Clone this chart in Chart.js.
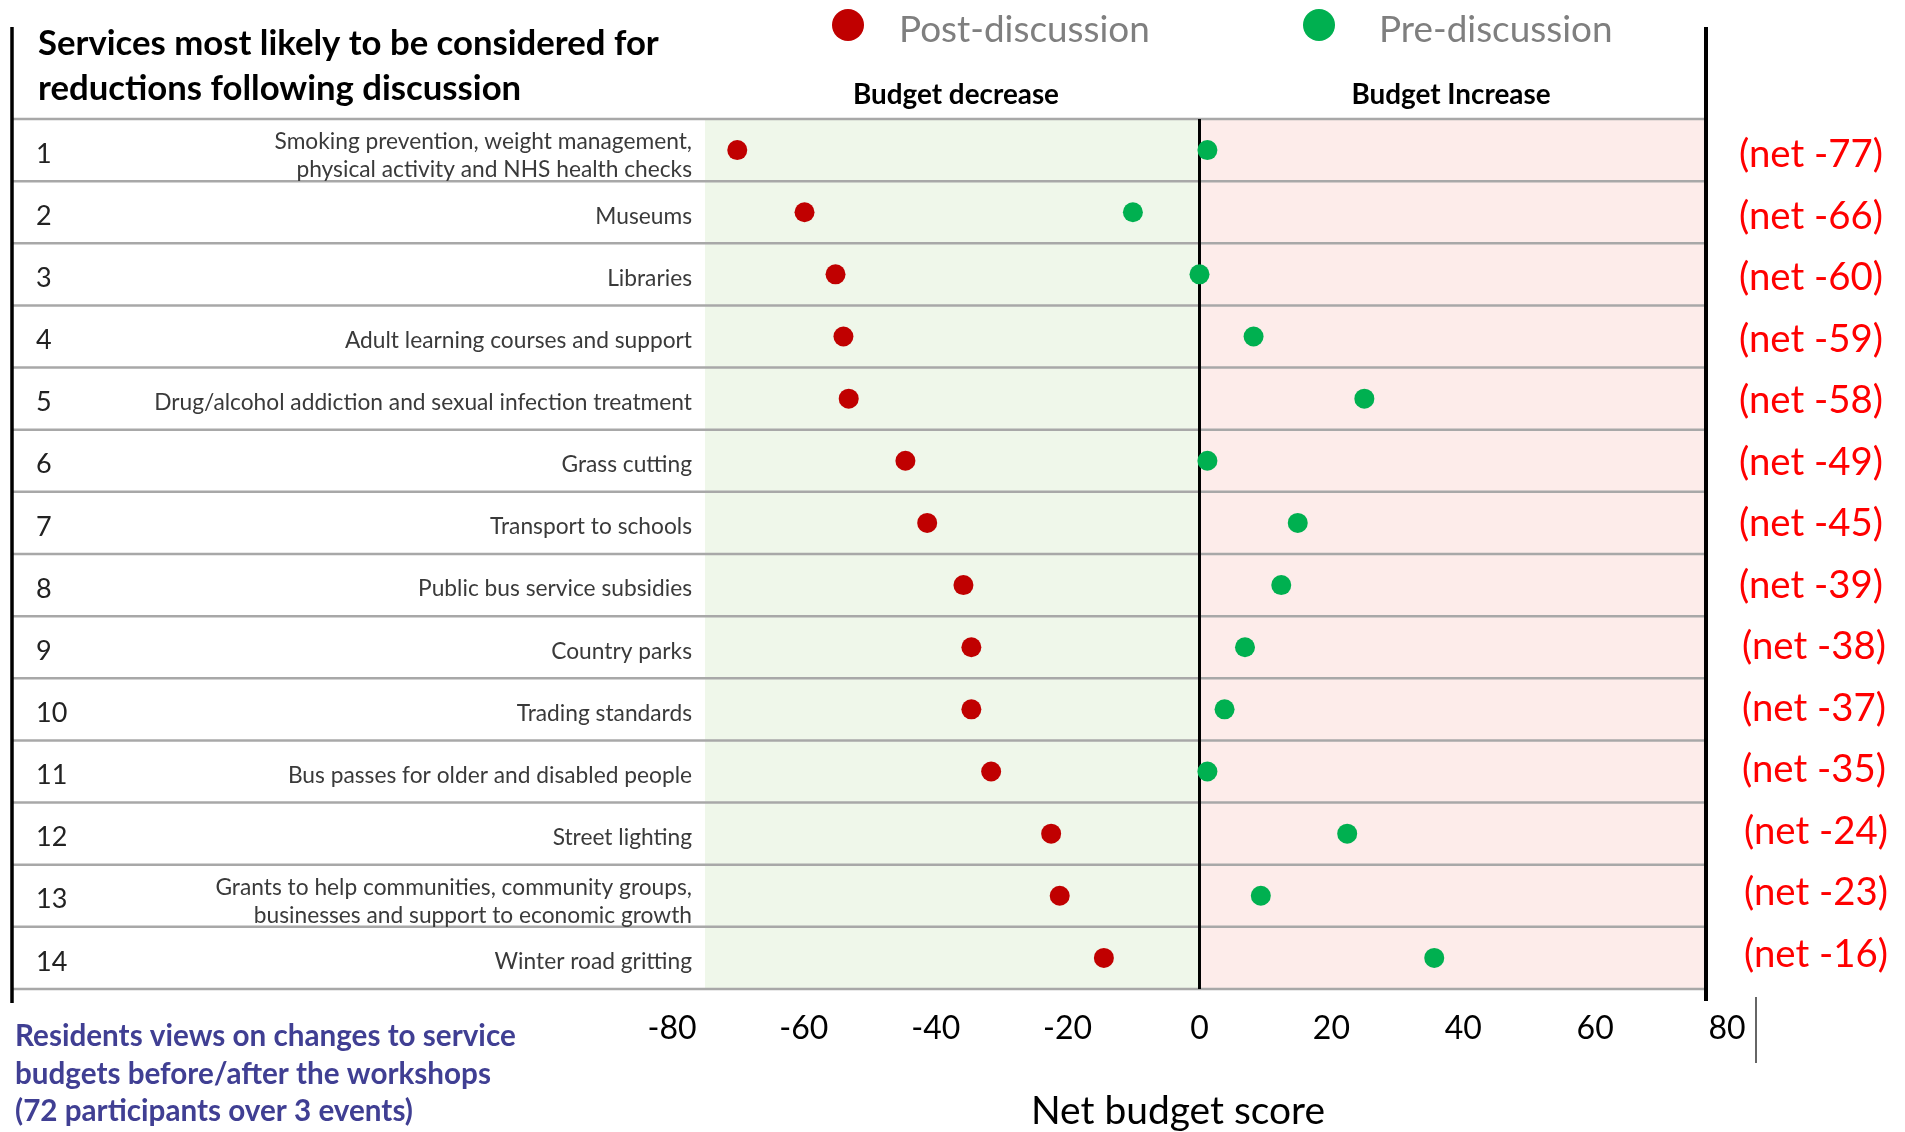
<!DOCTYPE html>
<html>
<head>
<meta charset="utf-8">
<script src="https://cdn.jsdelivr.net/npm/chart.js@4"></script>
<style>
  html, body { margin: 0; padding: 0; background: #fff; }
  #wrap { width: 1905px; height: 1132px; position: relative; }
</style>
</head>
<body>
<div id="wrap"><canvas id="chart"></canvas></div>
<script>
// services, top to bottom (multi-line labels as arrays)
const SERVICES = [
  ['Smoking prevention, weight management,', 'physical activity and NHS health checks'],
  ['Museums'],
  ['Libraries'],
  ['Adult learning courses and support'],
  ['Drug/alcohol addiction and sexual infection treatment'],
  ['Grass cutting'],
  ['Transport to schools'],
  ['Public bus service subsidies'],
  ['Country parks'],
  ['Trading standards'],
  ['Bus passes for older and disabled people'],
  ['Street lighting'],
  ['Grants to help communities, community groups,', 'businesses and support to economic growth'],
  ['Winter road gritting']
];
const POST_DISCUSSION = [-70.1, -59.9, -55.2, -54.0, -53.2, -44.6, -41.3, -35.8, -34.6, -34.6, -31.6, -22.5, -21.2, -14.5];
const PRE_DISCUSSION  = [1.2, -10.1, 0, 8.2, 25.0, 1.2, 14.9, 12.4, 6.9, 3.8, 1.2, 22.4, 9.3, 35.6];
const NET_SCORES = [-77, -66, -60, -59, -58, -49, -45, -39, -38, -37, -35, -24, -23, -16];

const X_MIN = -80, X_MAX = 80, X_STEP = 20;

const RED = '#C00000';
const GREEN = '#00B050';
const FONT = 'Lato, "Open Sans", sans-serif';

// font size that makes `text` exactly `width` px wide
function fitSize(ctx, text, weight, width) {
  ctx.font = `${weight} 100px ${FONT}`;
  return 100 * width / ctx.measureText(text).width;
}

function put(ctx, text, x, y, opts) {
  ctx.font = `${opts.weight || 'normal'} ${opts.size}px ${FONT}`;
  ctx.fillStyle = opts.color || '#000';
  ctx.textAlign = opts.align || 'left';
  ctx.textBaseline = opts.baseline || 'alphabetic';
  ctx.fillText(text, x, y);
}

const backdrop = {
  id: 'backdrop',
  beforeDatasetsDraw(chart) {
    const { ctx } = chart;
    const x = chart.scales.x, y = chart.scales.y;
    const top = y.getPixelForValue(-0.5), bottom = y.getPixelForValue(SERVICES.length - 0.5);
    const zero = x.getPixelForValue(0);
    const shadeL = x.getPixelForValue(-75), rightEdge = 1706;
    ctx.save();

    // shaded halves
    ctx.fillStyle = '#EFF7EA';
    ctx.fillRect(shadeL, top, zero - shadeL, bottom - top);
    ctx.fillStyle = '#FDECEA';
    ctx.fillRect(zero, top, rightEdge - zero, bottom - top);

    // row separators
    ctx.strokeStyle = '#A8A8A8';
    ctx.lineWidth = 2.5;
    for (let i = 0; i <= SERVICES.length; i++) {
      const yy = y.getPixelForValue(i - 0.5);
      ctx.beginPath(); ctx.moveTo(12, yy); ctx.lineTo(rightEdge, yy); ctx.stroke();
    }

    // zero line + frame
    ctx.strokeStyle = '#000';
    ctx.lineWidth = 3;
    ctx.beginPath(); ctx.moveTo(zero, top); ctx.lineTo(zero, bottom); ctx.stroke();
    ctx.lineWidth = 3.5;
    ctx.beginPath(); ctx.moveTo(12, 27); ctx.lineTo(12, 1003); ctx.stroke();
    ctx.lineWidth = 4;
    ctx.beginPath(); ctx.moveTo(rightEdge, 27); ctx.lineTo(rightEdge, 1001); ctx.stroke();
    ctx.lineWidth = 1.5;
    ctx.strokeStyle = '#333';
    ctx.beginPath(); ctx.moveTo(1756, 997); ctx.lineTo(1756, 1063); ctx.stroke();

    // title
    const tSize = fitSize(ctx, 'Services most likely to be considered for', 'bold', 621);
    put(ctx, 'Services most likely to be considered for', 38, 55, { size: tSize, weight: 'bold' });
    put(ctx, 'reductions following discussion', 38, 100, { size: tSize, weight: 'bold' });

    // legend
    ctx.fillStyle = RED;
    ctx.beginPath(); ctx.arc(848, 25, 16, 0, Math.PI * 2); ctx.fill();
    ctx.fillStyle = GREEN;
    ctx.beginPath(); ctx.arc(1319, 25, 16, 0, Math.PI * 2); ctx.fill();
    const lSize = fitSize(ctx, 'Post-discussion', 'normal', 251);
    put(ctx, 'Post-discussion', 899, 42, { size: lSize, color: '#7F7F7F' });
    put(ctx, 'Pre-discussion', 1379, 42, { size: lSize, color: '#7F7F7F' });

    // half headers
    const hSize = fitSize(ctx, 'Budget decrease', 'bold', 206);
    put(ctx, 'Budget decrease', 956, 104, { size: hSize, weight: 'bold', align: 'center' });
    put(ctx, 'Budget Increase', 1451, 104, { size: hSize, weight: 'bold', align: 'center' });

    // row numbers, service names, net scores
    const sSize = fitSize(ctx, SERVICES[4][0], 'normal', 538);
    const nSize = fitSize(ctx, '(net -77)', 'normal', 144);
    SERVICES.forEach((lines, i) => {
      const cy = y.getPixelForValue(i) + 4;
      put(ctx, String(i + 1), 36, cy, { size: 27, color: '#222', baseline: 'middle' });
      lines.forEach((ln, k) => {
        const off = (k - (lines.length - 1) / 2) * 28 + (lines.length > 1 ? 2 : 0);
        put(ctx, ln, 692, cy + off, { size: sSize, color: '#3A3A3A', align: 'right', baseline: 'middle' });
      });
      const nx = i >= 11 ? 1816 : i >= 8 ? 1814 : 1811;
      put(ctx, `(net ${NET_SCORES[i]})`, nx, 155 + i * 61.5, { size: nSize, color: '#FF0000', align: 'center', baseline: 'middle' });
    });

    // footer texts
    const fSize = fitSize(ctx, 'Residents views on changes to service', 'bold', 501);
    ['Residents views on changes to service', 'budgets before/after the workshops', '(72 participants over 3 events)']
      .forEach((t, k) => put(ctx, t, 15, 1046 + k * 37.5, { size: fSize, weight: 'bold', color: '#403F93' }));
    const aSize = fitSize(ctx, 'Net budget score', 'normal', 294);
    put(ctx, 'Net budget score', 1178, 1124, { size: aSize, align: 'center' });

    ctx.restore();
  }
};

new Chart(document.getElementById('chart'), {
  type: 'scatter',
  data: {
    datasets: [
      {
        label: 'Pre-discussion',
        data: PRE_DISCUSSION.map((v, i) => ({ x: v, y: i })),
        backgroundColor: GREEN, borderColor: GREEN, borderWidth: 0,
        pointRadius: 10, pointHoverRadius: 10
      },
      {
        label: 'Post-discussion',
        data: POST_DISCUSSION.map((v, i) => ({ x: v, y: i })),
        backgroundColor: RED, borderColor: RED, borderWidth: 0,
        pointRadius: 10, pointHoverRadius: 10
      }
    ]
  },
  options: {
    responsive: true,
    maintainAspectRatio: false,
    animation: false,
    layout: { padding: { left: 672, right: 178, top: 119, bottom: 83 } },
    plugins: { legend: { display: false }, tooltip: { enabled: false } },
    scales: {
      x: {
        type: 'linear', min: X_MIN, max: X_MAX,
        grid: { display: false, drawTicks: false },
        border: { display: false },
        ticks: { stepSize: X_STEP, padding: 20, color: '#000', font: { family: FONT, size: 32 } },
        afterFit: s => { s.height = 60; }
      },
      y: {
        type: 'linear', min: -0.5, max: SERVICES.length - 0.5, reverse: true,
        display: false
      }
    }
  },
  plugins: [backdrop]
});
</script>
</body>
</html>
